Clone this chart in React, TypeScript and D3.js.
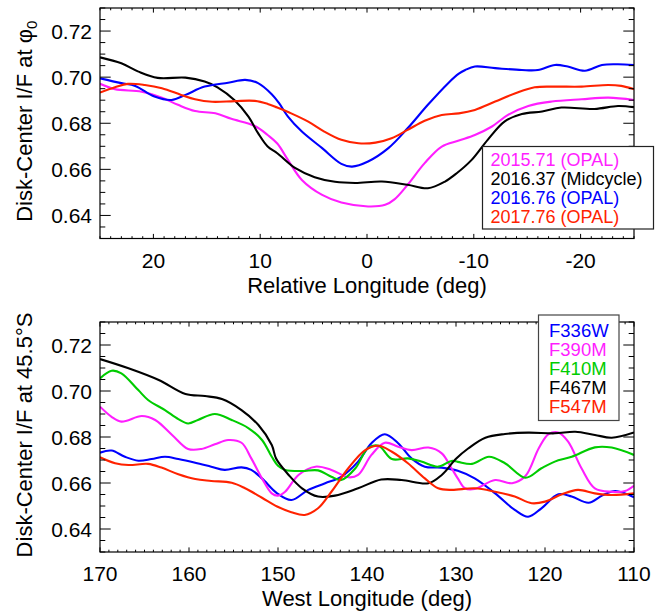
import React from "react";
import * as d3 from "d3";

// ---------- Data ----------
const topXTicks = [20, 10, 0, -10, -20];
const bottomXTicks = [170, 160, 150, 140, 130, 120, 110];
const yTicks = [0.64, 0.66, 0.68, 0.7, 0.72];

const topLabels = ["2015.71 (OPAL)", "2016.37 (Midcycle)", "2016.76 (OPAL)", "2017.76 (OPAL)"];
const topColors = ["#ff1eff", "#000000", "#0000ff", "#ff2200"];

const top2015: [number, number][] = [
  [25, 0.6971], [23.6, 0.6948], [21.1, 0.6937], [19.2, 0.6911], [17.7, 0.688], [16.1, 0.6853],
  [14.2, 0.6843], [12.7, 0.6819], [10.5, 0.6788], [9.3, 0.6749], [8.4, 0.6712], [7.4, 0.6641],
  [6.1, 0.6554], [4.2, 0.6489], [2.4, 0.6456], [-0.1, 0.6439], [-1.7, 0.6446], [-2.6, 0.6471],
  [-3.8, 0.6533], [-5.4, 0.6627], [-7, 0.6699], [-8.6, 0.6725], [-10.1, 0.6749], [-11.7, 0.6786],
  [-13.2, 0.6836], [-15.1, 0.6875], [-17.3, 0.6894], [-20.1, 0.6904], [-22.6, 0.6911], [-25, 0.6901],
];
const top2016m: [number, number][] = [
  [25, 0.7086], [23, 0.706], [21.4, 0.7024], [19.6, 0.6997], [17, 0.6998], [15.2, 0.6981],
  [14, 0.6956], [12.4, 0.69], [11.1, 0.6829], [10.2, 0.6757], [9.3, 0.6699], [8.4, 0.667],
  [6.7, 0.6605], [4.9, 0.6566], [3.0, 0.6546], [1.1, 0.6541], [-1.4, 0.6547], [-3.8, 0.6533],
  [-5.7, 0.6518], [-7.3, 0.6547], [-8.4, 0.6583], [-9.8, 0.6641], [-11.3, 0.6728], [-12.9, 0.6808],
  [-14.5, 0.684], [-16.4, 0.6851], [-18.2, 0.6868], [-21.3, 0.6862], [-23.5, 0.6875], [-25, 0.687],
];
const top2016o: [number, number][] = [
  [25, 0.6995], [23, 0.6974], [21.7, 0.6962], [19.9, 0.6916], [18.3, 0.6901], [17, 0.6923],
  [15.2, 0.6959], [13, 0.6976], [11.4, 0.6988], [10.2, 0.6974], [8.9, 0.6925], [8.2, 0.6885],
  [7.4, 0.6829], [6.1, 0.6764], [4.2, 0.6692], [2.4, 0.6624], [1.4, 0.6612], [-0.1, 0.6634],
  [-2, 0.6692], [-3.8, 0.6778], [-5.7, 0.688], [-7.6, 0.6974], [-8.6, 0.7015], [-9.2, 0.7031],
  [-10.1, 0.7046], [-12, 0.7039], [-14.5, 0.7031], [-16, 0.7031], [-17.6, 0.7053], [-18.8, 0.7046],
  [-20.4, 0.7028], [-22, 0.7053], [-23.5, 0.7056], [-25, 0.7053],
];
const top2017: [number, number][] = [
  [25, 0.6933], [23.6, 0.6956], [22.4, 0.6971], [20.8, 0.6966], [19.2, 0.6952], [17.4, 0.6923],
  [16.1, 0.6904], [14.5, 0.6893], [12.4, 0.6896], [10.5, 0.6897], [9.3, 0.6884], [8.4, 0.6868],
  [7.1, 0.6843], [5.5, 0.6807], [4, 0.6764], [2.4, 0.6728], [0.8, 0.6713], [-0.8, 0.6716],
  [-2.3, 0.6735], [-3.8, 0.6771], [-5.4, 0.6811], [-7, 0.6836], [-8.6, 0.6843], [-10.1, 0.6858],
  [-12, 0.6894], [-13.9, 0.693], [-15.7, 0.6956], [-17.6, 0.6959], [-20.1, 0.6959], [-22.6, 0.6966],
  [-23.8, 0.6962], [-25, 0.6948],
];

const bottomLabels = ["F336W", "F390M", "F410M", "F467M", "F547M"];
const bottomColors = ["#0000ff", "#ff1eff", "#00cc00", "#000000", "#ff2200"];

const f336w: [number, number][] = [
  [170, 0.6732], [168.7, 0.6741], [167.2, 0.6714], [165.7, 0.6697], [164.2, 0.6704], [162.7, 0.6714],
  [161.2, 0.6704], [159.3, 0.6688], [157.5, 0.6671], [156, 0.6657], [154.1, 0.6668], [153, 0.6657],
  [151.8, 0.662], [150.1, 0.6555], [148.5, 0.6526], [146.6, 0.657], [144.7, 0.6599], [142.9, 0.6627],
  [141, 0.6693], [139.5, 0.6773], [138, 0.6812], [136.5, 0.6773], [135, 0.6707], [133.5, 0.6671],
  [131.6, 0.6667], [129.8, 0.6653], [127.9, 0.662], [125.6, 0.6555], [123.4, 0.6483], [121.9, 0.6453],
  [120.4, 0.649], [118.5, 0.6551], [117, 0.6541], [115.1, 0.6514], [113.6, 0.6545], [112.1, 0.6565],
  [110, 0.6538],
];
const f390m: [number, number][] = [
  [170, 0.6932], [168.7, 0.6888], [167.6, 0.6867], [165.3, 0.6891], [163.8, 0.6874], [161.9, 0.6809],
  [160.1, 0.6748], [158.6, 0.6748], [157.1, 0.6768], [155.6, 0.6787], [154.1, 0.6775], [153, 0.6707],
  [151.8, 0.662], [150.7, 0.6555], [150, 0.6545], [149.2, 0.6562], [147.7, 0.6635], [145.8, 0.6671],
  [144, 0.6657], [142.1, 0.6625], [141, 0.6635], [139.5, 0.6722], [138, 0.6775], [136.5, 0.6758],
  [135, 0.6743], [133.1, 0.6754], [131.6, 0.6729], [130.5, 0.6664], [129.8, 0.662], [129, 0.6577],
  [127.9, 0.6574], [125.6, 0.6613], [123.7, 0.6599], [122.2, 0.663], [120.7, 0.6751], [119.6, 0.6812],
  [118.5, 0.682], [117.4, 0.678], [115.9, 0.6664], [114.4, 0.6577], [112.5, 0.6562], [111, 0.6565],
  [110, 0.6588],
];
const f410m: [number, number][] = [
  [170, 0.7055], [168.7, 0.7088], [167.6, 0.7077], [165.7, 0.7004], [164.6, 0.6961], [162.7, 0.6917],
  [161.2, 0.6878], [160.1, 0.6859], [159, 0.6874], [157.1, 0.69], [155.2, 0.6874], [153.3, 0.6838],
  [151.8, 0.6787], [150.7, 0.6714], [150, 0.6675], [149.2, 0.6657], [147.3, 0.6652], [145.5, 0.6655],
  [144, 0.6627], [142.9, 0.6613], [141.3, 0.6664], [139.9, 0.6751], [138.7, 0.6762], [137.2, 0.6704],
  [135.4, 0.6707], [133.9, 0.6693], [132, 0.6671], [130.5, 0.6696], [129.8, 0.6692], [128.2, 0.6683],
  [126.3, 0.6714], [124.5, 0.6686], [122.2, 0.6623], [120.4, 0.6664], [118.9, 0.6693], [117, 0.6714],
  [114.4, 0.6755], [112.5, 0.6754], [110, 0.6722],
];
const f467m: [number, number][] = [
  [170, 0.7139], [166.8, 0.7099], [163.4, 0.7048], [160.4, 0.6987], [158.2, 0.6978], [156.3, 0.6965],
  [154.1, 0.6917], [152.2, 0.6852], [150.7, 0.6765], [150.2, 0.6705], [148.8, 0.6635], [147.3, 0.6577],
  [145.5, 0.6541], [143.6, 0.6545], [141, 0.6577], [138.4, 0.6615], [136.1, 0.6613], [133.1, 0.6599],
  [131.6, 0.6635], [130, 0.6705], [128.6, 0.6751], [126.7, 0.6797], [124.5, 0.6813], [121.9, 0.6819],
  [118.9, 0.6816], [116.6, 0.6823], [114.4, 0.6809], [112.5, 0.6797], [110, 0.682],
];
const f547m: [number, number][] = [
  [170, 0.6712], [168.3, 0.6686], [166.8, 0.6678], [164.6, 0.6683], [163.1, 0.6667], [161.2, 0.6638],
  [159.3, 0.6617], [157.5, 0.6609], [155.2, 0.6601], [153.7, 0.6577], [151.8, 0.6536], [150.1, 0.6498],
  [148.5, 0.6473], [147, 0.6461], [145.5, 0.649], [144, 0.6562], [142.1, 0.6664], [140.2, 0.6743],
  [138.7, 0.6762], [137.2, 0.6736], [135.4, 0.6686], [133.5, 0.662], [132, 0.6577], [130.5, 0.657],
  [127.9, 0.6577], [125.6, 0.6562], [123.4, 0.6541], [121.5, 0.6512], [120, 0.6519], [118.1, 0.6551],
  [116.3, 0.657], [114.4, 0.6555], [112.5, 0.6548], [110, 0.6555],
];

const topSeries = [top2015, top2016m, top2016o, top2017];
const bottomSeries = [f336w, f390m, f410m, f467m, f547m];

const FONT = "'Liberation Sans', Arial, Helvetica, sans-serif";

type PanelProps = {
  id: string;
  xDomain: [number, number];
  xTicks: number[];
  xMinorStep: number;
  top: number;
  bottom: number;
  series: [number, number][][];
  colors: string[];
  xTitle: string;
  yTitle: React.ReactNode;
  legend: React.ReactNode;
};

const LEFT = 100;
const RIGHT = 634;

function Panel(p: PanelProps) {
  const x = d3.scaleLinear().domain(p.xDomain).range([LEFT, RIGHT]);
  const y = d3.scaleLinear().domain([0.63, 0.73]).range([p.bottom, p.top]);
  const line = d3
    .line<[number, number]>()
    .x((d) => x(d[0]))
    .y((d) => y(d[1]))
    .curve(d3.curveCatmullRom.alpha(0.5));

  const [a, b] = p.xDomain;
  const lo = Math.min(a, b), hi = Math.max(a, b);
  const xMinor = d3.range(lo, hi + 0.001, p.xMinorStep).filter((v) => !p.xTicks.includes(v));
  const yMinor = d3.range(0.63, 0.7301, 0.005).map((v) => +v.toFixed(3)).filter((v) => !yTicks.includes(v));
  const xMaj = 4.6, xMin = 2.3, yMaj = 10.7, yMin = 5.3;

  return (
    <g>
      <defs>
        <clipPath id={p.id}>
          <rect x={LEFT} y={p.top} width={RIGHT - LEFT} height={p.bottom - p.top} />
        </clipPath>
      </defs>
      <g clipPath={`url(#${p.id})`} fill="none" strokeWidth={2.1} strokeLinejoin="round">
        {p.series.map((s, i) => (
          <path key={i} d={line(s) || ""} stroke={p.colors[i]} />
        ))}
      </g>
      <rect x={LEFT} y={p.top} width={RIGHT - LEFT} height={p.bottom - p.top} fill="none" stroke="#000" strokeWidth={1.2} />
      <g stroke="#000" strokeWidth={1}>
        {p.xTicks.map((t) => (
          <g key={"xm" + t}>
            <line x1={x(t)} x2={x(t)} y1={p.bottom} y2={p.bottom - xMaj} />
            <line x1={x(t)} x2={x(t)} y1={p.top} y2={p.top + xMaj} />
          </g>
        ))}
        {xMinor.map((t) => (
          <g key={"xn" + t}>
            <line x1={x(t)} x2={x(t)} y1={p.bottom} y2={p.bottom - xMin} />
            <line x1={x(t)} x2={x(t)} y1={p.top} y2={p.top + xMin} />
          </g>
        ))}
        {yTicks.map((t) => (
          <g key={"ym" + t}>
            <line x1={LEFT} x2={LEFT + yMaj} y1={y(t)} y2={y(t)} />
            <line x1={RIGHT} x2={RIGHT - yMaj} y1={y(t)} y2={y(t)} />
          </g>
        ))}
        {yMinor.map((t) => (
          <g key={"yn" + t}>
            <line x1={LEFT} x2={LEFT + yMin} y1={y(t)} y2={y(t)} />
            <line x1={RIGHT} x2={RIGHT - yMin} y1={y(t)} y2={y(t)} />
          </g>
        ))}
      </g>
      <g fontFamily={FONT} fontSize={21} fill="#000">
        {yTicks.map((t) => (
          <text key={"yl" + t} x={LEFT - 8} y={y(t)} dy="0.36em" textAnchor="end">
            {t.toFixed(2)}
          </text>
        ))}
        {p.xTicks.map((t) => (
          <text key={"xl" + t} x={x(t)} y={p.bottom + 29} textAnchor="middle">
            {t}
          </text>
        ))}
      </g>
      <text x={(LEFT + RIGHT) / 2} y={p.bottom + 54} textAnchor="middle" fontFamily={FONT} fontSize={22}>
        {p.xTitle}
      </text>
      <text
        transform={`translate(32,${(p.top + p.bottom) / 2 - 2}) rotate(-90)`}
        textAnchor="middle"
        fontFamily={FONT}
        fontSize={22}
      >
        {p.yTitle}
      </text>
      {p.legend}
    </g>
  );
}

export default function App() {
  const topLegend = (
    <g fontFamily={FONT} fontSize={18}>
      <rect x={482.5} y={146.5} width={171} height={82.5} fill="#fff" stroke="#222" strokeWidth={1.2} />
      {topLabels.map((l, i) => (
        <text key={l} x={490.5} y={165.5 + i * 19} fill={topColors[i]}>
          {l}
        </text>
      ))}
    </g>
  );
  const bottomLegend = (
    <g fontFamily={FONT} fontSize={18.5}>
      <rect x={538.5} y={315} width={80.5} height={105.5} fill="#fff" stroke="#444" strokeWidth={1.2} />
      {bottomLabels.map((l, i) => (
        <text key={l} x={549} y={337 + i * 19} fill={bottomColors[i]}>
          {l}
        </text>
      ))}
    </g>
  );
  return (
    <svg width={670} height={614} style={{ position: "absolute", left: 0, top: 0, background: "#fff" }}>
      <rect width={670} height={614} fill="#fff" />
      <Panel
        id="clipTop"
        xDomain={[25, -25]}
        xTicks={topXTicks}
        xMinorStep={1}
        top={8}
        bottom={238.5}
        series={topSeries}
        colors={topColors}
        xTitle="Relative Longitude (deg)"
        yTitle={
          <>
            Disk-Center I/F at φ
            <tspan fontSize={15} dy={5}>0</tspan>
          </>
        }
        legend={topLegend}
      />
      <Panel
        id="clipBottom"
        xDomain={[170, 110]}
        xTicks={bottomXTicks}
        xMinorStep={1}
        top={322}
        bottom={552}
        series={bottomSeries}
        colors={bottomColors}
        xTitle="West Longitude (deg)"
        yTitle="Disk-Center I/F at 45.5°S"
        legend={bottomLegend}
      />
    </svg>
  );
}
